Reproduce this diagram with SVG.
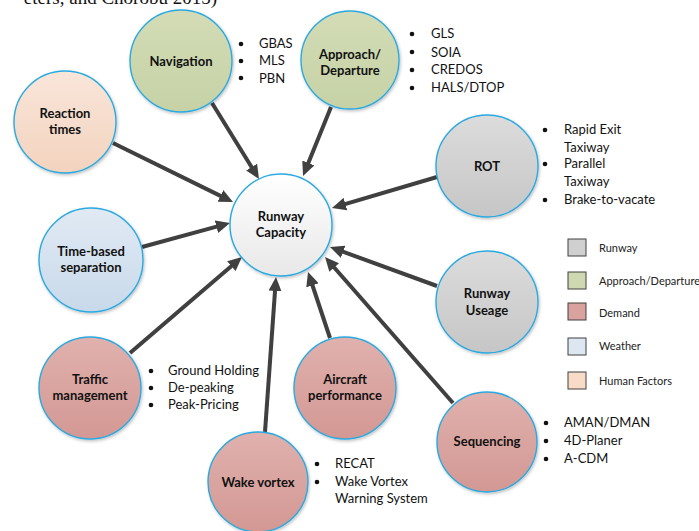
<svg xmlns="http://www.w3.org/2000/svg" width="699" height="531" viewBox="0 0 699 531">
<defs>
<linearGradient id="gGreen" x1="0" y1="0" x2="0" y2="1"><stop offset="0" stop-color="#d3dcb6"/><stop offset="1" stop-color="#c6d2a6"/></linearGradient>
<linearGradient id="gPeach" x1="0" y1="0" x2="0" y2="1"><stop offset="0" stop-color="#f9e6da"/><stop offset="1" stop-color="#f3d3be"/></linearGradient>
<linearGradient id="gBlue" x1="0" y1="0" x2="0" y2="1"><stop offset="0" stop-color="#e1eaf4"/><stop offset="1" stop-color="#c8d9ea"/></linearGradient>
<linearGradient id="gGray" x1="0" y1="0" x2="0" y2="1"><stop offset="0" stop-color="#dcdcdc"/><stop offset="1" stop-color="#c6c6c6"/></linearGradient>
<linearGradient id="gPink" x1="0" y1="0" x2="0" y2="1"><stop offset="0" stop-color="#e0b1ad"/><stop offset="1" stop-color="#d39894"/></linearGradient>
<linearGradient id="gWhite" x1="0" y1="0" x2="0" y2="1"><stop offset="0" stop-color="#ffffff"/><stop offset="1" stop-color="#e8e8e8"/></linearGradient>
<filter id="sh" x="-20%" y="-20%" width="140%" height="140%"><feDropShadow dx="1" dy="1.5" stdDeviation="1.5" flood-color="#000" flood-opacity="0.25"/></filter>
<marker id="ah" markerUnits="userSpaceOnUse" markerWidth="15" markerHeight="13" refX="4" refY="6.5" orient="auto"><path d="M0,0 L14,6.5 L0,13 z" fill="#404040"/></marker>
</defs>
<style>
.n{stroke:#2aa9e0;stroke-width:1.4;filter:url(#sh)}
.lb{font-family:Lato,"Liberation Sans",sans-serif;font-weight:bold;font-size:13px;fill:#111;text-anchor:middle}
.it{font-family:Lato,"Liberation Sans",sans-serif;font-size:13px;fill:#111}
.lg{font-family:Lato,"Liberation Sans",sans-serif;font-size:11px;fill:#222}
.bx{stroke:#404040;stroke-width:1}
.c line{stroke:#404040;stroke-width:4;marker-end:url(#ah)}
.b{fill:#111}
</style>
<rect width="699" height="531" fill="#ffffff"/>
<text x="217" y="4" font-family="'Liberation Serif',serif" font-size="19" text-anchor="end" fill="#111">eters, and Chorobu 2015)</text>

<g id="connectors" class="c">
<line x1="212" y1="103" x2="253.7" y2="170.5"/>
<line x1="331" y1="107" x2="306.8" y2="166.7"/>
<line x1="113" y1="143" x2="224" y2="197.6"/>
<line x1="142" y1="247" x2="220.3" y2="225.6"/>
<line x1="130" y1="353" x2="234.4" y2="263.5"/>
<line x1="437" y1="177" x2="341.6" y2="205.2"/>
<line x1="437" y1="286" x2="339.4" y2="250.4"/>
<line x1="453" y1="403" x2="331.6" y2="264.5"/>
<line x1="330" y1="338" x2="311.2" y2="281.5"/>
<line x1="265" y1="432" x2="275.3" y2="287"/>
</g>

<g id="capacity"><circle class="n" cx="281" cy="225" r="51" fill="url(#gWhite)"/><text class="lb" x="281" y="221">Runway</text><text class="lb" x="281" y="237">Capacity</text></g>

<g id="navigation"><circle class="n" cx="181" cy="61" r="51" fill="url(#gGreen)"/><text class="lb" x="181" y="66">Navigation</text>
<circle class="b" cx="241" cy="44" r="2.3"/><circle class="b" cx="241" cy="61" r="2.3"/><circle class="b" cx="241" cy="78" r="2.3"/>
<text class="it" x="259" y="48">GBAS</text><text class="it" x="259" y="65">MLS</text><text class="it" x="259" y="83">PBN</text></g>

<g id="approach"><circle class="n" cx="350" cy="60" r="49" fill="url(#gGreen)"/><text class="lb" x="350" y="59">Approach/</text><text class="lb" x="350" y="75">Departure</text>
<circle class="b" cx="412" cy="34" r="2.3"/><circle class="b" cx="412" cy="52" r="2.3"/><circle class="b" cx="412" cy="70" r="2.3"/><circle class="b" cx="412" cy="88" r="2.3"/>
<text class="it" x="431" y="38">GLS</text><text class="it" x="431" y="57">SOIA</text><text class="it" x="431" y="74">CREDOS</text><text class="it" x="431" y="92">HALS/DTOP</text></g>

<g id="reaction"><circle class="n" cx="65" cy="122" r="51" fill="url(#gPeach)"/><text class="lb" x="65" y="118">Reaction</text><text class="lb" x="65" y="134">times</text></g>

<g id="timebased"><circle class="n" cx="91" cy="260" r="52" fill="url(#gBlue)"/><text class="lb" x="91" y="256">Time-based</text><text class="lb" x="91" y="272">separation</text></g>

<g id="rot"><circle class="n" cx="487" cy="166" r="51" fill="url(#gGray)"/><text class="lb" x="487" y="171">ROT</text>
<circle class="b" cx="545" cy="130" r="2.3"/><circle class="b" cx="545" cy="164" r="2.3"/><circle class="b" cx="545" cy="200" r="2.3"/>
<text class="it" x="564" y="134">Rapid Exit</text><text class="it" x="564" y="152">Taxiway</text><text class="it" x="564" y="168">Parallel</text><text class="it" x="564" y="186">Taxiway</text><text class="it" x="564" y="204">Brake-to-vacate</text></g>

<g id="useage"><circle class="n" cx="487" cy="302" r="51" fill="url(#gGray)"/><text class="lb" x="487" y="298">Runway</text><text class="lb" x="487" y="315">Useage</text></g>

<g id="traffic"><circle class="n" cx="90" cy="388" r="51" fill="url(#gPink)"/><text class="lb" x="90" y="384">Traffic</text><text class="lb" x="90" y="400">management</text>
<circle class="b" cx="151" cy="371" r="2.3"/><circle class="b" cx="151" cy="388" r="2.3"/><circle class="b" cx="151" cy="405" r="2.3"/>
<text class="it" x="168" y="375">Ground Holding</text><text class="it" x="168" y="392">De-peaking</text><text class="it" x="168" y="409">Peak-Pricing</text></g>

<g id="aircraft"><circle class="n" cx="345" cy="388" r="51" fill="url(#gPink)"/><text class="lb" x="345" y="384">Aircraft</text><text class="lb" x="345" y="400">performance</text></g>

<g id="sequencing"><circle class="n" cx="487" cy="442" r="50" fill="url(#gPink)"/><text class="lb" x="487" y="446">Sequencing</text>
<circle class="b" cx="546" cy="423" r="2.3"/><circle class="b" cx="546" cy="441" r="2.3"/><circle class="b" cx="546" cy="459" r="2.3"/>
<text class="it" x="564" y="427">AMAN/DMAN</text><text class="it" x="564" y="445">4D-Planer</text><text class="it" x="564" y="463">A-CDM</text></g>

<g id="wake"><circle class="n" cx="258" cy="482" r="50" fill="url(#gPink)"/><text class="lb" x="258" y="487">Wake vortex</text>
<circle class="b" cx="317" cy="464" r="2.3"/><circle class="b" cx="317" cy="482" r="2.3"/>
<text class="it" x="335" y="468">RECAT</text><text class="it" x="335" y="486">Wake Vortex</text><text class="it" x="335" y="503">Warning System</text></g>

<g id="legend">
<rect class="bx" x="568" y="239" width="18" height="17" fill="#d0d0d0"/><text class="lg" x="599" y="252">Runway</text>
<rect class="bx" x="568" y="272" width="18" height="17" fill="#cfd8b0"/><text class="lg" x="599" y="285">Approach/Departure</text>
<rect class="bx" x="568" y="303" width="18" height="17" fill="#d9a29e"/><text class="lg" x="599" y="317">Demand</text>
<rect class="bx" x="568" y="338" width="18" height="17" fill="#dce7f2"/><text class="lg" x="599" y="350">Weather</text>
<rect class="bx" x="568" y="372" width="18" height="17" fill="#f9dcc8"/><text class="lg" x="599" y="385">Human Factors</text>
</g>
</svg>
